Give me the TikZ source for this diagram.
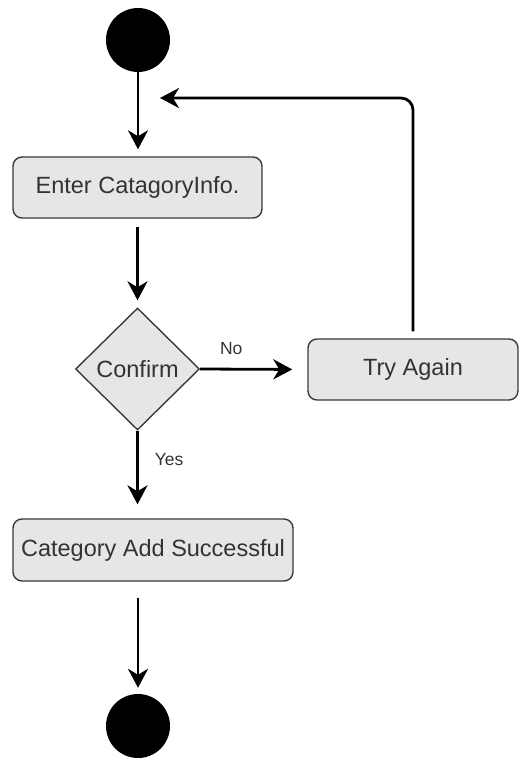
\documentclass[tikz,border=0pt]{standalone}
\usepackage{fontspec}
\setmainfont{Liberation Sans}
\usetikzlibrary{arrows.meta,shapes.geometric}
\definecolor{boxfill}{HTML}{E6E6E6}
\definecolor{boxline}{HTML}{3A3A3A}
\definecolor{txt}{HTML}{333333}
\begin{document}
\begin{tikzpicture}[x=1pt,y=-1pt,
  flow/.style={line width=2.8pt, draw=black,
    -{Stealth[length=19pt,width=20pt,inset=6pt]}},
  stepbox/.style={draw=boxline, line width=1.4pt, fill=boxfill,
    rounded corners=9pt, inner sep=0pt, text=txt,
    font=\fontsize{23.5}{27}\selectfont},
  choice/.style={diamond, aspect=1, draw=boxline, line width=1.4pt,
    fill=boxfill, inner sep=0pt, text=txt,
    minimum width=124pt, minimum height=122pt,
    font=\fontsize{23.5}{27}\selectfont},
  dot/.style={circle, fill=black, inner sep=0pt, minimum size=64pt},
  guard/.style={text=txt, inner sep=0pt, font=\fontsize{17.5}{20}\selectfont}
]
\useasboundingbox (0,0) rectangle (519,758);

% activity nodes
\node[dot] (start) at (138,40) {};
\node[stepbox, minimum width=249pt, minimum height=61pt] (enter) at (137.5,187.5) {Enter CatagoryInfo.};
\node[choice] (confirm) at (137.5,369) {Confirm};
\node[stepbox, minimum width=210pt, minimum height=61pt] (retry) at (413,369.5) {Try Again};
\node[stepbox, minimum width=280pt, minimum height=62pt] (success) at (153,550) {Category Add Successful};
\node[dot] (stop) at (138,726) {};
\coordinate (loopend) at (160,98);

% control flow
\draw[flow, shorten >=7pt] (start) -- (start |- enter.north);
\draw[flow, shorten <=8pt, shorten >=7pt] (enter.south) -- (confirm.north);
\draw[flow, shorten >=15pt] (confirm.east) -- (retry.west)
  node[guard, pos=0.29, above=13pt] {No};
\draw[flow, shorten >=14pt] (confirm.south) -- (confirm.south |- success.north)
  node[guard, pos=0.33, right=16pt] {Yes};
\draw[flow, shorten <=16pt, shorten >=6pt] (stop |- success.south) -- (stop.north);
\draw[flow, rounded corners=12pt, shorten <=7pt] (retry.north) -- (retry.north |- loopend) -- (loopend);
\end{tikzpicture}
\end{document}
